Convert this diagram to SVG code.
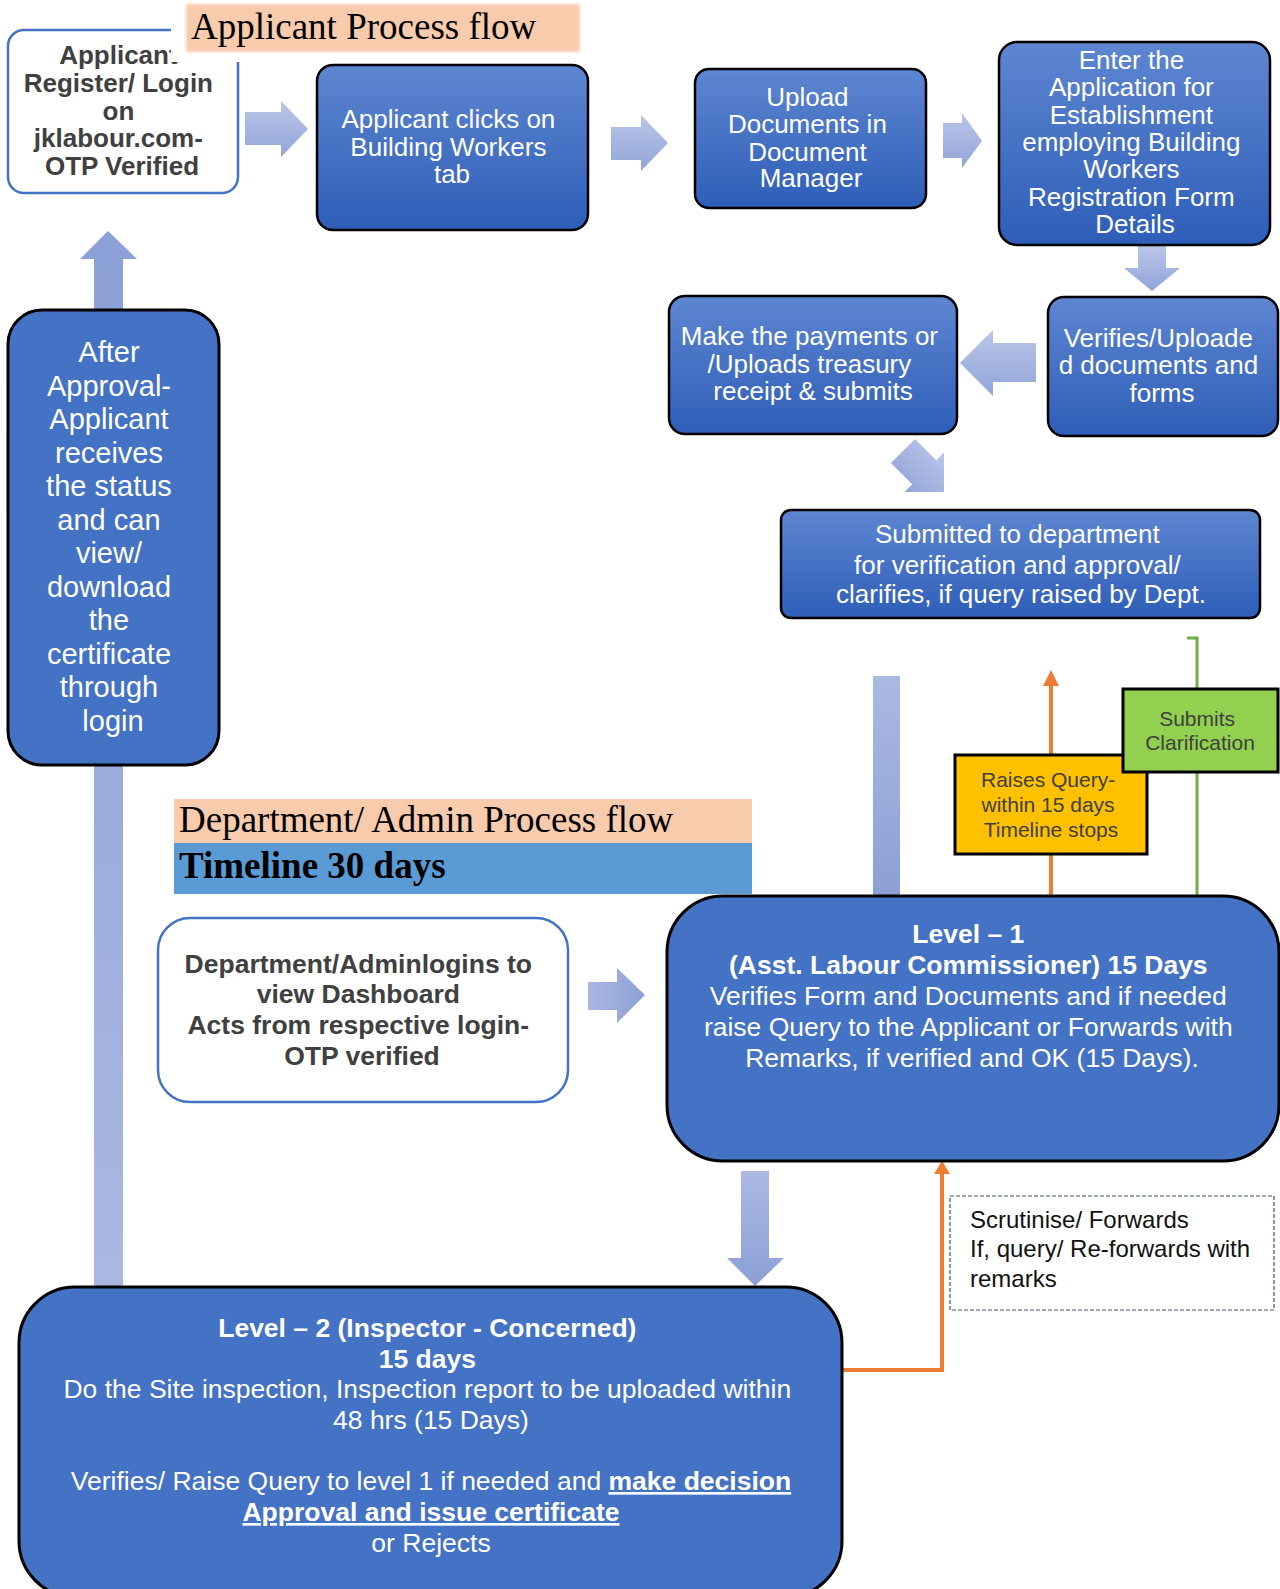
<svg xmlns="http://www.w3.org/2000/svg" width="1280" height="1589" viewBox="0 0 1280 1589">
  <defs>
    <linearGradient id="boxGrad" x1="0" y1="0" x2="0" y2="1">
      <stop offset="0" stop-color="#5E86D1"/>
      <stop offset="1" stop-color="#2E5EB8"/>
    </linearGradient>
    <linearGradient id="arrowV" x1="0" y1="0" x2="0" y2="1">
      <stop offset="0" stop-color="#BAC5E8"/>
      <stop offset="1" stop-color="#92A5D9"/>
    </linearGradient>
    <linearGradient id="arrowDown" x1="0" y1="0" x2="0" y2="1">
      <stop offset="0" stop-color="#ABB8E2"/>
      <stop offset="1" stop-color="#8CA0D6"/>
    </linearGradient>
    <linearGradient id="arrowUp" x1="0" y1="0" x2="0" y2="1">
      <stop offset="0" stop-color="#8BA0D6"/>
      <stop offset="1" stop-color="#AAB7E1"/>
    </linearGradient>
    <linearGradient id="arrowH" x1="0" y1="0" x2="1" y2="0">
      <stop offset="0" stop-color="#AAB8E2"/>
      <stop offset="1" stop-color="#8CA0D6"/>
    </linearGradient>
    <filter id="soft" x="-5%" y="-20%" width="110%" height="140%">
      <feGaussianBlur stdDeviation="1.5"/>
    </filter>
  </defs>
  <style>
    .grad { fill: url(#boxGrad); stroke: #000; stroke-width: 2.5; }
    .solid { fill: #4472C4; stroke: #000; stroke-width: 3; }
    .plain { fill: #FFFFFF; stroke: #4472C4; stroke-width: 2.5; }
    .wt { font-family: "Liberation Sans", Arial, sans-serif; font-size: 26px; fill: #FFFFFF; text-anchor: middle; }
    .dk { font-family: "Liberation Sans", Arial, sans-serif; font-size: 26px; font-weight: bold; fill: #404040; text-anchor: middle; }
    .b { font-weight: bold; }
    .u { font-weight: bold; text-decoration: underline; }
    .head { font-family: "Liberation Serif", "Times New Roman", serif; font-size: 37px; fill: #000; }
    .note { font-family: "Liberation Sans", Arial, sans-serif; font-size: 21px; fill: #404040; text-anchor: middle; }
    .orange { fill: none; stroke: #ED7D31; stroke-width: 4; }
    .orange-head { fill: #ED7D31; }
  </style>

  <rect width="1280" height="1589" fill="#FFFFFF"/>

  <!-- connectors -->
  <g id="connectors">
    <!-- return path to the login box -->
    <polygon points="94,1290 94,259 80,259 108,231 137,259 123,259 123,1290" fill="url(#arrowUp)"/>
    <polygon points="245,112 281,112 281,101 308,129 281,157 281,145 245,145" fill="url(#arrowV)"/>
    <polygon points="611,127 641,127 641,115 668,143 641,171 641,160 611,160" fill="url(#arrowV)"/>
    <polygon points="943,123 962,123 962,113 982,141 962,168 962,158 943,158" fill="url(#arrowV)"/>
    <polygon points="1138,246 1166,246 1166,268 1180,268 1152,291 1124,268 1138,268" fill="url(#arrowV)"/>
    <polygon points="1036,343 993,343 993,330 960,363 993,396 993,382 1036,382" fill="url(#arrowV)"/>
    <polygon points="0,-17 30,-17 30,-28 58,0 30,28 30,17 0,17" fill="url(#arrowV)" transform="translate(903,451) rotate(45)"/>
    <rect x="873" y="676" width="27" height="222" fill="url(#arrowDown)"/>
    <!-- query raised: level 1 up to the applicant -->
    <line class="orange" x1="1051" y1="898" x2="1051" y2="684"/>
    <polygon class="orange-head" points="1051,670 1059,686 1043,686"/>
    <!-- clarification back to level 1 -->
    <polyline points="1187,638 1197,638 1197,898" fill="none" stroke="#70AD47" stroke-width="3"/>
    <polygon points="588,982 617,982 617,968 645,995 617,1023 617,1010 588,1010" fill="url(#arrowH)"/>
    <polygon points="741,1171 769,1171 769,1258 784,1258 755,1286 727,1258 741,1258" fill="url(#arrowDown)"/>
    <!-- level 2 back to level 1 -->
    <polyline class="orange" points="842,1370 942,1370 942,1171"/>
    <polygon class="orange-head" points="942,1161 950,1174 934,1174"/>
  </g>

  <!-- applicant flow -->
  <g id="node-login">
    <rect class="plain" x="8" y="30" width="230" height="163" rx="16"/>
    <text class="dk">
      <tspan x="122" y="64">Applicant</tspan>
      <tspan x="122" y="92">Register/ Login</tspan>
      <tspan x="122" y="120">on</tspan>
      <tspan x="122" y="147">jklabour.com-</tspan>
      <tspan x="122" y="175">OTP Verified</tspan>
    </text>
  </g>

  <g id="title-applicant">
    <rect x="171" y="0" width="430" height="62" fill="#FFFFFF"/>
    <rect x="186" y="4" width="394" height="48" fill="#F8CBAD" filter="url(#soft)"/>
    <text class="head" x="191" y="39">Applicant Process flow</text>
  </g>

  <g id="node-clicks">
    <rect class="grad" x="317" y="65" width="271" height="165" rx="16"/>
    <text class="wt">
      <tspan x="452" y="128">Applicant clicks on</tspan>
      <tspan x="452" y="156">Building Workers</tspan>
      <tspan x="452" y="183">tab</tspan>
    </text>
  </g>

  <g id="node-upload">
    <rect class="grad" x="695" y="69" width="231" height="139" rx="14"/>
    <text class="wt">
      <tspan x="811" y="106">Upload</tspan>
      <tspan x="811" y="133">Documents in</tspan>
      <tspan x="811" y="161">Document</tspan>
      <tspan x="811" y="187">Manager</tspan>
    </text>
  </g>

  <g id="node-enter">
    <rect class="grad" x="999" y="42" width="271" height="203" rx="18"/>
    <text class="wt">
      <tspan x="1135" y="69">Enter the</tspan>
      <tspan x="1135" y="96">Application for</tspan>
      <tspan x="1135" y="124">Establishment</tspan>
      <tspan x="1135" y="151">employing Building</tspan>
      <tspan x="1135" y="178">Workers</tspan>
      <tspan x="1135" y="206">Registration Form</tspan>
      <tspan x="1135" y="233">Details</tspan>
    </text>
  </g>

  <g id="node-verifies">
    <rect class="grad" x="1048" y="297" width="230" height="139" rx="16"/>
    <text class="wt">
      <tspan x="1162" y="347">Verifies/Uploade</tspan>
      <tspan x="1162" y="374">d documents and</tspan>
      <tspan x="1162" y="402">forms</tspan>
    </text>
  </g>

  <g id="node-payment">
    <rect class="grad" x="669" y="296" width="288" height="138" rx="16"/>
    <text class="wt">
      <tspan x="813" y="345">Make the payments or</tspan>
      <tspan x="813" y="373">/Uploads treasury</tspan>
      <tspan x="813" y="400">receipt &amp; submits</tspan>
    </text>
  </g>

  <g id="node-submitted">
    <rect class="grad" x="781" y="510" width="479" height="108" rx="10"/>
    <text class="wt">
      <tspan x="1021" y="543">Submitted to department</tspan>
      <tspan x="1021" y="574">for verification and approval/</tspan>
      <tspan x="1021" y="603">clarifies, if query raised by Dept.</tspan>
    </text>
  </g>

  <g id="node-after-approval">
    <rect class="solid" x="8" y="310" width="211" height="455" rx="34"/>
    <text class="wt" style="font-size:29px">
      <tspan x="113" y="362">After</tspan>
      <tspan x="113" y="395.5">Approval-</tspan>
      <tspan x="113" y="429">Applicant</tspan>
      <tspan x="113" y="462.5">receives</tspan>
      <tspan x="113" y="496">the status</tspan>
      <tspan x="113" y="529.5">and can</tspan>
      <tspan x="113" y="563">view/</tspan>
      <tspan x="113" y="596.5">download</tspan>
      <tspan x="113" y="630">the</tspan>
      <tspan x="113" y="663.5">certificate</tspan>
      <tspan x="113" y="697">through</tspan>
      <tspan x="113" y="730.5">login</tspan>
    </text>
  </g>

  <!-- query / clarification loop -->
  <g id="node-raises-query">
    <rect x="955" y="755" width="192" height="99" fill="#FFC000" stroke="#000" stroke-width="3"/>
    <text class="note">
      <tspan x="1051" y="787">Raises Query-</tspan>
      <tspan x="1051" y="812">within 15 days</tspan>
      <tspan x="1051" y="837">Timeline stops</tspan>
    </text>
  </g>

  <g id="node-clarification">
    <rect x="1123" y="689" width="155" height="83" fill="#92D050" stroke="#000" stroke-width="3"/>
    <text class="note">
      <tspan x="1200" y="726">Submits</tspan>
      <tspan x="1200" y="750">Clarification</tspan>
    </text>
  </g>

  <!-- department flow -->
  <g id="title-department">
    <rect x="174" y="799" width="578" height="44" fill="#F8CBAD"/>
    <rect x="174" y="843" width="578" height="51" fill="#5B9BD5"/>
    <text class="head" x="179" y="832">Department/ Admin Process flow</text>
    <text class="head" x="179" y="878" font-weight="bold">Timeline 30 days</text>
  </g>

  <g id="node-admin-login">
    <rect class="plain" x="158" y="918" width="410" height="184" rx="32"/>
    <text class="dk" style="font-size:26.5px">
      <tspan x="362" y="973">Department/Adminlogins to</tspan>
      <tspan x="362" y="1003">view Dashboard</tspan>
      <tspan x="362" y="1034">Acts from respective login-</tspan>
      <tspan x="362" y="1065">OTP verified</tspan>
    </text>
  </g>

  <g id="node-level1">
    <rect class="solid" x="667" y="896" width="612" height="265" rx="56"/>
    <text class="wt" style="font-size:26.5px">
      <tspan class="b" x="972" y="943">Level – 1</tspan>
      <tspan class="b" x="972" y="974">(Asst. Labour Commissioner) 15 Days</tspan>
      <tspan x="972" y="1005">Verifies Form and Documents and if needed</tspan>
      <tspan x="972" y="1036">raise Query to the Applicant or Forwards with</tspan>
      <tspan x="972" y="1067">Remarks, if verified and OK (15 Days).</tspan>
    </text>
  </g>

  <g id="node-scrutinise">
    <rect x="950" y="1196" width="324" height="114" fill="#FFFFFF" stroke="#44546A" stroke-width="1.2" stroke-dasharray="4,2"/>
    <text font-family="'Liberation Sans', Arial, sans-serif" font-size="24" fill="#111">
      <tspan x="970" y="1228">Scrutinise/ Forwards</tspan>
      <tspan x="970" y="1257">If, query/ Re-forwards with</tspan>
      <tspan x="970" y="1287">remarks</tspan>
    </text>
  </g>

  <g id="node-level2">
    <rect class="solid" x="19" y="1287" width="823" height="310" rx="56"/>
    <text class="wt" style="font-size:26.5px">
      <tspan class="b" x="431" y="1337">Level – 2 (Inspector - Concerned)</tspan>
      <tspan class="b" x="431" y="1368">15 days</tspan>
      <tspan x="431" y="1398">Do the Site inspection, Inspection report to be uploaded within</tspan>
      <tspan x="431" y="1429">48 hrs (15 Days)</tspan>
    </text>
    <text class="wt" style="font-size:26.5px" x="431" y="1490">Verifies/ Raise Query to level 1 if needed and <tspan class="u">make decision</tspan></text>
    <text class="wt" style="font-size:26.5px" x="431" y="1521"><tspan class="u">Approval and issue certificate</tspan></text>
    <text class="wt" style="font-size:26.5px" x="431" y="1552">or Rejects</text>
  </g>
</svg>
